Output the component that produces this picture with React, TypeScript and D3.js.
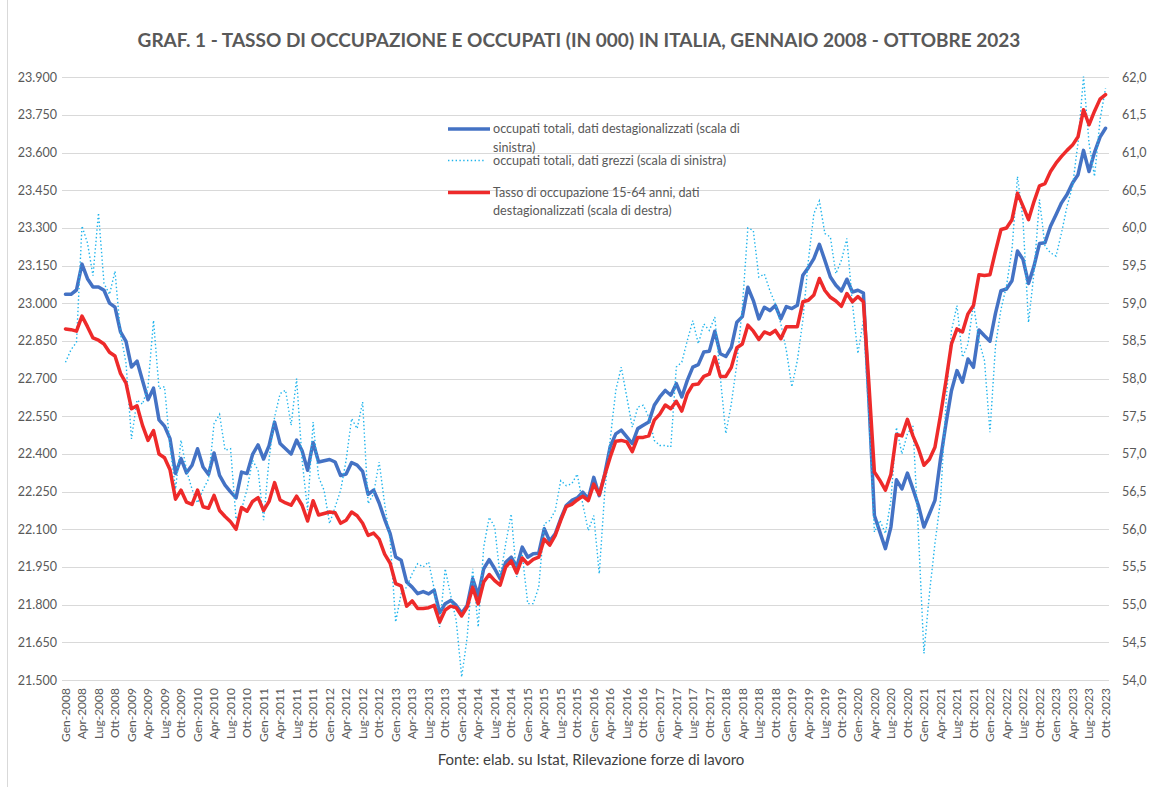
import React, { useEffect, useRef } from 'react';
import * as d3 from 'd3';

// mesi e anni (asse delle categorie, gen 2008 - ott 2023)
const MONTHS = ['Gen', 'Feb', 'Mar', 'Apr', 'Mag', 'Giu', 'Lug', 'Ago', 'Set', 'Ott', 'Nov', 'Dic'];
const YEARS = [2008, 2009, 2010, 2011, 2012, 2013, 2014, 2015, 2016, 2017, 2018, 2019, 2020, 2021, 2022, 2023];
const CATEGORIES = YEARS.flatMap(y => MONTHS.map(m => `${m}-${y}`)).slice(0, 190);

// occupati totali, dati destagionalizzati (migliaia, scala di sinistra)
const OCC_SA = [
  23036, 23036, 23053, 23156, 23098, 23065, 23065, 23052, 23001, 22985, 22886, 22848,
  22746, 22770, 22693, 22616, 22662, 22536, 22511, 22461, 22322, 22382, 22325, 22355,
  22421, 22348, 22319, 22404, 22315, 22276, 22249, 22225, 22328, 22322, 22398, 22436,
  22380, 22433, 22527, 22442, 22421, 22400, 22455, 22413, 22335, 22446, 22368, 22373,
  22378, 22368, 22314, 22320, 22366, 22356, 22331, 22239, 22256, 22205, 22140, 22083,
  21990, 21977, 21890, 21870, 21844, 21852, 21843, 21858, 21767, 21804, 21817, 21797,
  21767, 21797, 21903, 21837, 21943, 21979, 21943, 21903, 21969, 21989, 21950, 22029,
  21989, 22003, 22005, 22102, 22053, 22082, 22142, 22195, 22215, 22225, 22248, 22221,
  22307, 22234, 22321, 22430, 22480, 22495, 22468, 22441, 22501, 22514, 22527, 22594,
  22627, 22653, 22634, 22680, 22627, 22693, 22746, 22756, 22806, 22809, 22889, 22799,
  22788, 22825, 22925, 22947, 23064, 23011, 22938, 22984, 22971, 22991, 22938, 22987,
  22979, 22992, 23112, 23142, 23178, 23235, 23171, 23105, 23072, 23049, 23096, 23045,
  23052, 23041, 22613, 22155, 22089, 22023, 22109, 22297, 22261, 22324, 22261, 22195,
  22109, 22162, 22215, 22378, 22520, 22652, 22732, 22686, 22778, 22745, 22894, 22871,
  22849, 22960, 23050, 23057, 23090, 23208, 23175, 23079, 23148, 23238, 23241, 23307,
  23353, 23400, 23433, 23479, 23512, 23609, 23525, 23601, 23662, 23697,
];

// occupati totali, dati grezzi (migliaia, scala di sinistra)
const OCC_RAW = [
  22765, 22815, 22845, 23308, 23240, 23110, 23360, 23080, 23035, 23128, 22880, 22762,
  22460, 22615, 22598, 22668, 22932, 22660, 22668, 22430, 22260, 22455, 22335, 22260,
  22205, 22258, 22300, 22521, 22558, 22415, 22421, 22140, 22180, 22260, 22375, 22335,
  22136, 22380, 22547, 22640, 22654, 22514, 22700, 22375, 22176, 22527, 22308, 22255,
  22123, 22189, 22255, 22375, 22541, 22501, 22607, 22202, 22242, 22368, 22202, 22056,
  21731, 21844, 21870, 21923, 21963, 21950, 21970, 21863, 21711, 21943, 21837, 21738,
  21512, 21671, 21943, 21711, 22029, 22148, 22109, 21910, 22043, 22161, 21910, 22003,
  21804, 21804, 21870, 22122, 22135, 22175, 22294, 22274, 22281, 22320, 22201, 22095,
  22155, 21923, 22250, 22460, 22653, 22746, 22627, 22507, 22587, 22594, 22547, 22454,
  22434, 22434, 22428, 22746, 22766, 22852, 22931, 22839, 22918, 22892, 22945, 22706,
  22481, 22600, 22759, 22984, 23300, 23290, 23104, 23117, 23051, 22998, 22918, 22812,
  22667, 22773, 22933, 23171, 23357, 23408, 23278, 23264, 23118, 23171, 23258, 23000,
  22800, 22933, 22550, 22089, 22136, 22083, 22215, 22506, 22400, 22480, 22513, 22083,
  21606, 21844, 22043, 22214, 22600, 22891, 22991, 22785, 22838, 22997, 22851, 22772,
  22487, 22830, 22976, 23069, 23214, 23505, 23333, 22923, 23122, 23413, 23227, 23201,
  23188, 23280, 23386, 23466, 23638, 23903, 23638, 23505, 23731, 23856,
];

// tasso di occupazione 15-64 anni, dati destagionalizzati (%, scala di destra)
const TASSO = [
  58.66, 58.65, 58.63, 58.83, 58.69, 58.54, 58.51, 58.46, 58.35, 58.30, 58.07, 57.94,
  57.60, 57.64, 57.38, 57.18, 57.31, 57.00, 56.95, 56.79, 56.40, 56.52, 56.36, 56.33,
  56.52, 56.30, 56.28, 56.45, 56.25, 56.17, 56.10, 56.00, 56.29, 56.24, 56.37, 56.42,
  56.25, 56.37, 56.62, 56.39, 56.35, 56.32, 56.44, 56.32, 56.11, 56.38, 56.19, 56.21,
  56.23, 56.22, 56.08, 56.12, 56.23, 56.18, 56.08, 55.92, 55.95, 55.87, 55.67, 55.55,
  55.28, 55.25, 54.98, 55.05, 54.95, 54.95, 54.96, 54.99, 54.77, 54.93, 54.98, 54.96,
  54.85, 54.97, 55.23, 55.01, 55.30, 55.40, 55.32, 55.26, 55.50, 55.58, 55.42, 55.62,
  55.54, 55.60, 55.63, 55.87, 55.79, 55.92, 56.12, 56.30, 56.33, 56.39, 56.44, 56.38,
  56.60, 56.46, 56.72, 56.96, 57.17, 57.18, 57.16, 57.03, 57.22, 57.22, 57.24, 57.45,
  57.53, 57.65, 57.60, 57.70, 57.57, 57.80, 57.92, 57.93, 58.03, 58.06, 58.29, 58.03,
  58.03, 58.15, 58.41, 58.46, 58.71, 58.63, 58.52, 58.62, 58.59, 58.64, 58.53, 58.69,
  58.69, 58.69, 59.02, 59.04, 59.11, 59.33, 59.17, 59.08, 59.03, 58.96, 59.13, 59.02,
  59.09, 59.02, 57.93, 56.76, 56.65, 56.52, 56.73, 57.26, 57.24, 57.46, 57.24, 57.07,
  56.85, 56.93, 57.09, 57.51, 57.97, 58.46, 58.66, 58.62, 58.86, 58.97, 59.38, 59.37,
  59.38, 59.69, 59.98, 60.00, 60.11, 60.46, 60.29, 60.11, 60.35, 60.56, 60.59, 60.75,
  60.86, 60.95, 61.03, 61.10, 61.21, 61.57, 61.37, 61.55, 61.71, 61.77,
];

const LEFT_TICKS = [21500, 21650, 21800, 21950, 22100, 22250, 22400, 22550, 22700, 22850, 23000, 23150, 23300, 23450, 23600, 23750, 23900];
const RIGHT_TICKS = [54, 54.5, 55, 55.5, 56, 56.5, 57, 57.5, 58, 58.5, 59, 59.5, 60, 60.5, 61, 61.5, 62];

const TITLE = 'GRAF. 1 - TASSO DI OCCUPAZIONE E OCCUPATI (IN 000) IN ITALIA, GENNAIO 2008 - OTTOBRE 2023';
const SOURCE = 'Fonte: elab. su Istat, Rilevazione forze di lavoro';
const LEGEND = [
  { lines: ['occupati totali, dati destagionalizzati (scala di', 'sinistra)'], kind: 'sa' },
  { lines: ['occupati totali, dati grezzi (scala di sinistra)'], kind: 'raw' },
  { lines: ['Tasso di occupazione 15-64 anni, dati', 'destagionalizzati (scala di destra)'], kind: 'rate' },
];

const FONT = 'Lato, "Liberation Sans", Arial, sans-serif';
const TXT = '#595959';
const BLUE = '#4472c4';
const RED = '#ee2a2a';
const CYAN = '#1fb4ec';
const DOTS = '1.4 2.4';

const it = d3.formatLocale({ decimal: ',', thousands: '.', grouping: [3], currency: ['€', ''] });

export default function App() {
  const svgRef = useRef<SVGSVGElement | null>(null);

  useEffect(() => {
    document.body.style.margin = '0';
    if (!svgRef.current) return;
    const W = 1149, H = 787;
    const L = 62, R = 1109, T = 77.3, B = 680;

    const svg = d3.select(svgRef.current);
    svg.attr('viewBox', `0 0 ${W} ${H}`).attr('width', W).attr('height', H);
    svg.selectAll('*').remove();

    svg.append('rect').attr('width', W).attr('height', H).attr('fill', '#fff');
    // bordo sinistro dell'area grafico
    svg.append('line').attr('x1', 7.5).attr('x2', 7.5).attr('y1', 0).attr('y2', H).attr('stroke', '#d9d9d9');

    const idx = CATEGORIES.map((_, i) => i);
    const x = d3.scalePoint<number>().domain(idx).range([L, R]).padding(0.63);
    const yL = d3.scaleLinear().domain([21500, 23900]).range([B, T]);
    const yR = d3.scaleLinear().domain([54, 62]).range([B, T]);

    // griglia
    svg.append('g').selectAll('line').data(LEFT_TICKS).enter().append('line')
      .attr('x1', L).attr('x2', R)
      .attr('y1', d => Math.round(yL(d)) + 0.5).attr('y2', d => Math.round(yL(d)) + 0.5)
      .attr('stroke', '#d9d9d9').attr('stroke-width', 1);

    const fmtL = it.format(',.0f');
    const fmtR = it.format('.1f');

    svg.append('g').attr('transform', `translate(${L},0)`)
      .call(d3.axisLeft(yL).tickValues(LEFT_TICKS).tickFormat(d => fmtL(d as number)).tickSize(0).tickPadding(5))
      .call(s => s.select('.domain').remove())
      .selectAll('text')
        .attr('fill', TXT).attr('font-size', 12.5).attr('font-family', FONT);

    svg.append('g').attr('transform', `translate(${R},0)`)
      .call(d3.axisRight(yR).tickValues(RIGHT_TICKS).tickFormat(d => fmtR(d as number)).tickSize(0).tickPadding(13))
      .call(s => s.select('.domain').remove())
      .selectAll('text')
        .attr('fill', TXT).attr('font-size', 12.5).attr('font-family', FONT);

    // etichette asse x, ogni trimestre
    svg.append('g').selectAll('text').data(idx.filter(i => i % 3 === 0)).enter().append('text')
      .attr('transform', i => `translate(${x(i)},688) rotate(-90)`)
      .attr('text-anchor', 'end').attr('dy', '0.35em')
      .attr('fill', TXT).attr('font-size', 12).attr('font-family', FONT)
      .text(i => CATEGORIES[i]);

    const lineL = (vals: number[]) => d3.line<number>().x((_, i) => x(i) as number).y(v => yL(v))(vals);
    const lineR = d3.line<number>().x((_, i) => x(i) as number).y(v => yR(v));

    svg.append('path').attr('d', lineL(OCC_SA))
      .attr('fill', 'none').attr('stroke', BLUE).attr('stroke-width', 3.5)
      .attr('stroke-linejoin', 'round').attr('stroke-linecap', 'round');
    svg.append('path').attr('d', lineL(OCC_RAW))
      .attr('fill', 'none').attr('stroke', CYAN).attr('stroke-width', 1.4)
      .attr('stroke-dasharray', DOTS);
    svg.append('path').attr('d', lineR(TASSO))
      .attr('fill', 'none').attr('stroke', RED).attr('stroke-width', 3.5)
      .attr('stroke-linejoin', 'round').attr('stroke-linecap', 'round');

    // titolo e fonte
    svg.append('text').attr('x', 579).attr('y', 47).attr('text-anchor', 'middle')
      .attr('fill', TXT).attr('font-size', 19).attr('font-weight', 700).attr('font-family', FONT)
      .text(TITLE);
    svg.append('text').attr('x', 591).attr('y', 765).attr('text-anchor', 'middle')
      .attr('fill', '#404040').attr('font-size', 15).attr('font-family', FONT)
      .text(SOURCE);

    // legenda
    const legY = [129, 160.5, 192.5];
    const lg = svg.append('g');
    LEGEND.forEach((item, k) => {
      const y0 = legY[k];
      const sample = lg.append('line').attr('x1', 448).attr('x2', 490).attr('y1', y0).attr('y2', y0);
      if (item.kind === 'sa') sample.attr('stroke', BLUE).attr('stroke-width', 3.5);
      if (item.kind === 'rate') sample.attr('stroke', RED).attr('stroke-width', 3.5);
      if (item.kind === 'raw') sample.attr('x2', 485).attr('stroke', CYAN).attr('stroke-width', 1.4).attr('stroke-dasharray', DOTS);
      item.lines.forEach((t, j) => {
        lg.append('text').attr('x', 493).attr('y', y0 + j * 18.5).attr('dy', '0.35em')
          .attr('fill', TXT).attr('font-size', 12.6).attr('font-family', FONT)
          .text(t);
      });
    });
  }, []);

  return <svg ref={svgRef} style={{ display: 'block' }} />;
}
